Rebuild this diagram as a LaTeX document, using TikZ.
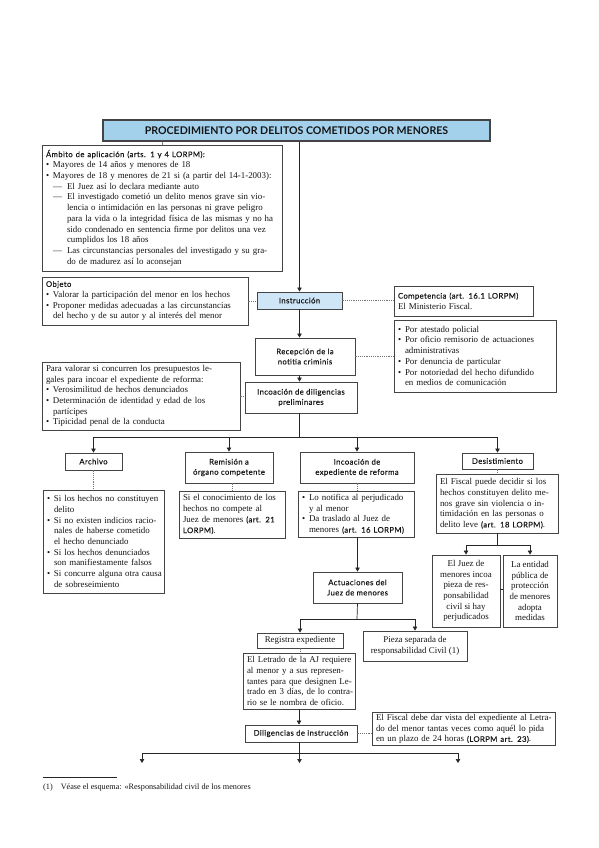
\documentclass[tikz,border=0pt]{standalone}
\usepackage{fontspec}
\setmainfont{Liberation Serif}
\newfontfamily\hf[LetterSpace=5,FakeBold=0.25]{Lato}
\newfontfamily\tf{Lato}
\usetikzlibrary{arrows.meta}
\definecolor{titleblue}{HTML}{A3D1EC}
\definecolor{instblue}{HTML}{CFE6F6}
\definecolor{bord}{HTML}{444444}
\definecolor{txt}{HTML}{141414}
\newlength\bi \setlength\bi{7pt}
\newlength\dw \setlength\dw{14pt}
\newcommand\bodyfont{\fontsize{8.9}{10.7}\selectfont}
\newcommand\headfont{\hf\fontsize{7.7}{10.2}\selectfont}
\newcommand\lnJ[1]{\noindent\makebox[\hsize][s]{#1}\par}
\newcommand\lnL[1]{\noindent #1\par}
\newcommand\buJ[1]{\noindent\makebox[\bi][l]{\textbullet}\makebox[\dimexpr\hsize-\bi\relax][s]{#1}\par}
\newcommand\buL[1]{\noindent\makebox[\bi][l]{\textbullet}#1\par}
\newcommand\coJ[1]{\noindent\hspace*{\bi}\makebox[\dimexpr\hsize-\bi\relax][s]{#1}\par}
\newcommand\coL[1]{\noindent\hspace*{\bi}#1\par}
\newcommand\daJ[1]{\noindent\hspace*{\bi}\makebox[\dw][l]{—}\makebox[\dimexpr\hsize-\bi-\dw\relax][s]{#1}\par}
\newcommand\daL[1]{\noindent\hspace*{\bi}\makebox[\dw][l]{—}#1\par}
\newcommand\dcJ[1]{\noindent\hspace*{\dimexpr\bi+\dw\relax}\makebox[\dimexpr\hsize-\bi-\dw\relax][s]{#1}\par}
\newcommand\dcL[1]{\noindent\hspace*{\dimexpr\bi+\dw\relax}#1\par}
\newcommand\hs[1]{{\headfont #1}}
\begin{document}
\begin{tikzpicture}[x=1pt,y=-1pt,
  bx/.style={draw=bord, line width=0.9pt, inner xsep=4pt, inner ysep=2pt, font=\bodyfont, text=txt, align=left},
  hd/.style={bx, font=\headfont, align=center},
  ct/.style={bx, align=center},
  ln/.style={draw=black!85, line width=0.7pt},
  arr/.style={ln, -{Triangle[length=4pt,width=4.5pt]}},
  dsh/.style={draw=black!55, line width=0.5pt, dash pattern=on 1.2pt off 1pt},
  thinln/.style={draw=black!50, line width=0.5pt}]
\useasboundingbox (0,0) rectangle (599,848);

% title
\node[hd, fill=titleblue, line width=1.1pt, minimum width=387, minimum height=21, font=\tf\bfseries\fontsize{10.6}{12}\selectfont] (title) at (296.5,130.5) {PROCEDIMIENTO POR DELITOS COMETIDOS POR MENORES};

% ambito
\node[bx, minimum width=240, minimum height=126, text width=232] (amb) at (162,208) {%
\lnL{\hs{Ámbito de aplicación (arts. 1 y 4 LORPM):}}
\buL{Mayores de 14 años y menores de 18}
\buL{Mayores de 18 y menores de 21 si (a partir del 14-1-2003):}
\daL{El Juez así lo declara mediante auto}
\daJ{El investigado cometió un delito menos grave sin vio-}
\dcJ{lencia o intimidación en las personas ni grave peligro}
\dcJ{para la vida o la integridad física de las mismas y no ha}
\dcJ{sido condenado en sentencia firme por delitos una vez}
\dcL{cumplidos los 18 años}
\daJ{Las circunstancias personales del investigado y su gra-}
\dcL{do de madurez así lo aconsejan}};

% objeto
\node[bx, minimum width=206, minimum height=48, text width=198] (obj) at (145,301) {%
\lnL{\hs{Objeto}}
\buL{Valorar la participación del menor en los hechos}
\buJ{Proponer medidas adecuadas a las circunstancias}
\coL{del hecho y de su autor y al interés del menor}};

% instruccion
\node[hd, fill=instblue, minimum width=85, minimum height=17] (inst) at (299.5,300.5) {Instrucción};

% competencia
\node[bx, minimum width=139, minimum height=30, text width=131] (comp) at (463.5,301) {%
\lnL{\hs{Competencia (art. 16.1 LORPM)}}
\lnL{El Ministerio Fiscal.}};

% atestado
\node[bx, minimum width=162, minimum height=72, text width=154] (ates) at (475,356) {%
\buL{Por atestado policial}
\buJ{Por oficio remisorio de actuaciones}
\coL{administrativas}
\buL{Por denuncia de particular}
\buJ{Por notoriedad del hecho difundido}
\coL{en medios de comunicación}};

% recepcion
\node[hd, minimum width=100, minimum height=37] (rec) at (305,356.5) {Recepción de la\\notitia criminis};

% para valorar
\node[bx, minimum width=198, minimum height=68, text width=190] (val) at (141,396) {%
\lnJ{Para valorar si concurren los presupuestos le-}
\lnL{gales para incoar el expediente de reforma:}
\buL{Verosimilitud de hechos denunciados}
\buJ{Determinación de identidad y edad de los}
\coL{partícipes}
\buL{Tipicidad penal de la conducta}};

% incoacion diligencias
\node[hd, minimum width=112, minimum height=31] (incd) at (301,397.5) {Incoación de diligencias\\preliminares};

% second row headings
\node[hd, minimum width=57, minimum height=17] (arch) at (93.5,461.5) {Archivo};
\node[hd, minimum width=88, minimum height=31] (rem) at (229,467.5) {Remisión a\\órgano competente};
\node[hd, minimum width=114, minimum height=31] (incx) at (357,467.5) {Incoación de\\expediente de reforma};
\node[hd, minimum width=71, minimum height=16] (desi) at (497.5,461) {Desistimiento};

% archivo bullets
\node[bx, minimum width=121, minimum height=103, text width=113] (archb) at (103.5,541.5) {%
\buJ{Si los hechos no constituyen}
\coL{delito}
\buJ{Si no existen indicios racio-}
\coJ{nales de haberse cometido}
\coL{el hecho denunciado}
\buJ{Si los hechos denunciados}
\coL{son manifiestamente falsos}
\buJ{Si concurre alguna otra causa}
\coL{de sobreseimiento}};

% remision text
\node[bx, minimum width=106, minimum height=47, text width=98] (remt) at (232,514.5) {%
\lnJ{Si el conocimiento de los}
\lnJ{hechos no compete al}
\lnJ{Juez de menores \hs{(art. 21}}
\lnL{\hs{LORPM)}.}};

% incoacion expediente bullets
\node[bx, minimum width=116, minimum height=46, text width=108] (incb) at (356,514) {%
\buJ{Lo notifica al perjudicado}
\coL{y al menor}
\buJ{Da traslado al Juez de}
\coL{menores \hs{(art. 16 LORPM)}}};

% fiscal puede
\node[bx, minimum width=122, minimum height=59, text width=114] (fisc) at (497,503.5) {%
\lnJ{El Fiscal puede decidir si los}
\lnJ{hechos constituyen delito me-}
\lnJ{nos grave sin violencia o in-}
\lnJ{timidación en las personas o}
\lnL{delito leve \hs{(art. 18 LORPM)}.}};

% two small boxes
\node[ct, minimum width=68, minimum height=72, inner xsep=1pt] (jz) at (466,591) {El Juez de\\menores incoa\\pieza de res-\\ponsabilidad\\civil si hay\\perjudicados};
\node[ct, minimum width=54, minimum height=72, inner xsep=1pt] (ent) at (530,591) {La entidad\\pública de\\protección\\de menores\\adopta\\medidas};

% actuaciones
\node[hd, minimum width=89, minimum height=31] (act) at (357.5,587.5) {Actuaciones del\\Juez de menores};

\node[ct, minimum width=86, minimum height=15, inner ysep=1pt] (reg) at (300,640.5) {Registra expediente};
\node[ct, minimum width=104, minimum height=30] (pie) at (415,646) {Pieza separada de\\responsabilidad Civil (1)};

\node[bx, minimum width=112, minimum height=56, text width=104] (letr) at (299,681) {%
\lnJ{El Letrado de la AJ requiere}
\lnJ{al menor y a sus represen-}
\lnJ{tantes para que designen Le-}
\lnJ{trado en 3 días, de lo contra-}
\lnL{rio se le nombra de oficio.}};

\node[hd, minimum width=112, minimum height=17] (dili) at (301,733.5) {Diligencias de instrucción};

\node[bx, minimum width=183, minimum height=32, text width=175] (fdeb) at (463.5,729) {%
\lnJ{El Fiscal debe dar vista del expediente al Letra-}
\lnJ{do del menor tantas veces como aquél lo pida}
\lnL{en un plazo de 24 horas \hs{(LORPM art. 23)}.}};

% coordinates
\coordinate (hb1) at (299.5,437);
\coordinate (hb2) at (497,545);
\coordinate (hb3) at (357,619);
\coordinate (hb4) at (299.5,753);
\coordinate (b1) at (142,763);
\coordinate (b2) at (299.5,763);
\coordinate (b3) at (458,763);
\coordinate (f1) at (43,777);
\coordinate (f2) at (117,777);

% connectors
\draw[thinln] (title.south -| amb.north) -- (amb.north);
\draw[arr] (title.south -| inst.north) -- (inst.north);
\draw[dsh] (obj.east) -- (obj.east -| inst.west);
\draw[dsh] (inst.east) -- (inst.east -| comp.west);
\draw[arr] (inst.south) -- (inst.south |- rec.north);
\draw[dsh] (rec.east) -- (rec.east -| ates.west);
\draw[arr] (inst.south |- rec.south) -- (inst.south |- incd.north);
\draw[dsh] (val.east) -- (val.east -| incd.west);
\draw[ln] (inst.south |- incd.south) -- (hb1);
\draw[ln] (arch.north |- hb1) -- (desi.north |- hb1);
\draw[arr] (arch.north |- hb1) -- (arch.north);
\draw[arr] (rem.north |- hb1) -- (rem.north);
\draw[arr] (incx.north |- hb1) -- (incx.north);
\draw[arr] (desi.north |- hb1) -- (desi.north);
\draw[dsh] (arch.south) -- (arch.south |- archb.north);
\draw[dsh] (rem.south -| remt.north) -- (remt.north);
\draw[dsh] (incx.south) -- (incx.south |- incb.north);
\draw[dsh] (desi.south -| fisc.north) -- (fisc.north);
\draw[ln] (fisc.south) -- (hb2);
\draw[ln] (jz.north |- hb2) -- (ent.north |- hb2);
\draw[arr] (jz.north |- hb2) -- (jz.north);
\draw[arr] (ent.north |- hb2) -- (ent.north);
\draw[ln] ([yshift=2]jz.east) -- ([yshift=2]jz.east -| ent.west);
\draw[arr] (incb.south -| act.north) -- (act.north);
\draw[ln] (act.south) -- (hb3);
\draw[ln] (reg.north |- hb3) -- (pie.north |- hb3);
\draw[arr] (reg.north |- hb3) -- (reg.north);
\draw[arr] (pie.north |- hb3) -- (pie.north);
\draw[dsh] (reg.south) -- (reg.south |- letr.north);
\draw[arr] (letr.south) -- (letr.south |- dili.north);
\draw[dsh] (dili.east) -- (dili.east -| fdeb.west);
\draw[ln] (hb4 |- dili.south) -- (hb4);
\draw[ln] (b1 |- hb4) -- (b3 |- hb4);
\draw[arr] (b1 |- hb4) -- (b1);
\draw[arr] (b2 |- hb4) -- (b2);
\draw[arr] (b3 |- hb4) -- (b3);

% footnote
\draw[ln, line width=0.6pt] (f1) -- (f2);
\node[anchor=west, inner sep=0pt, font=\fontsize{8.2}{9}\selectfont, text=txt] (fn) at (43,788) {(1)\hspace{8pt}Véase el esquema: «Responsabilidad civil de los menores};
\end{tikzpicture}
\end{document}
